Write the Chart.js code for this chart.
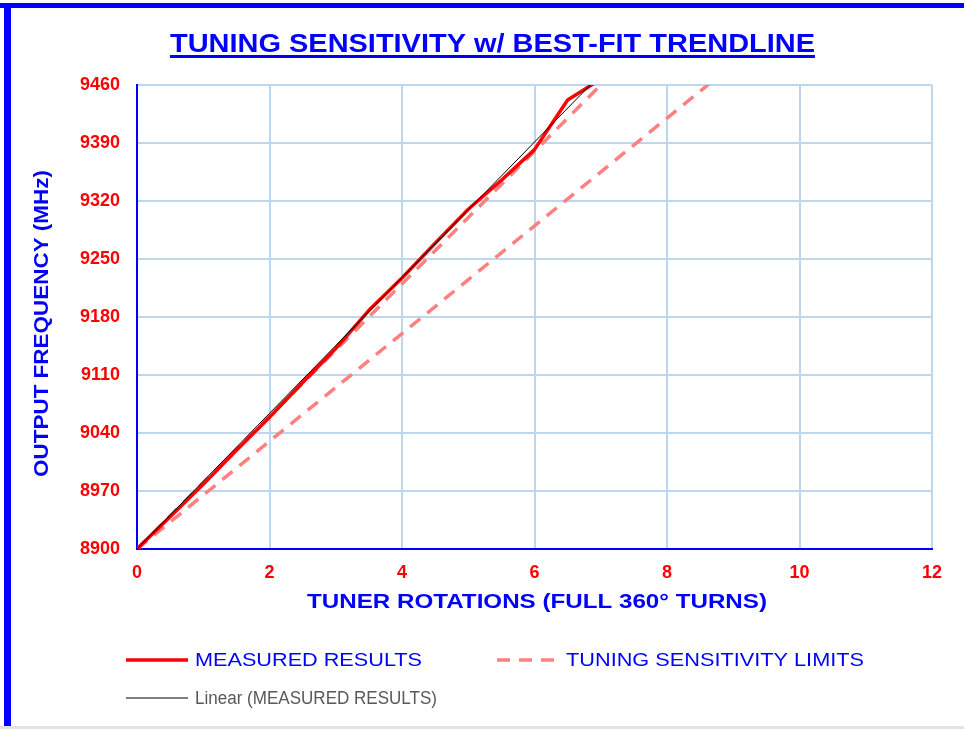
<!DOCTYPE html>
<html>
<head>
<meta charset="utf-8">
<title>Tuning Sensitivity</title>
<script src="https://cdn.jsdelivr.net/npm/chart.js@4.4.1/dist/chart.umd.min.js"></script>
<style>
html, body { margin: 0; padding: 0; background: #fff; }
#wrap { position: relative; width: 964px; height: 729px; overflow: hidden; background: #fff; }
#wrap canvas { position: absolute; left: 0; top: 0; }
.frame { position: absolute; background: #0000ff; }
#frameTop { left: 0; top: 3px; width: 964px; height: 5px; }
#frameLeft { left: 4px; top: 3px; width: 7px; height: 726px; }
#frameBottom { position: absolute; left: 0; top: 726px; width: 964px; height: 3px; background: #e2e2e2; }
</style>
</head>
<body>
<div id="wrap">
    <canvas id="tuningChart" width="964" height="729"></canvas>
    <div class="frame" id="frameTop"></div>
    <div class="frame" id="frameLeft"></div>
    <div id="frameBottom"></div>
</div>
<script>
// measured points (turns, MHz)
const rotations   = [0, 0.5, 1, 1.5, 2, 2.5, 3, 3.5, 4, 4.5, 5, 5.5, 6, 6.5, 7];
const measuredMHz = [8900, 8939, 8978, 9019, 9059, 9101, 9142, 9188, 9227, 9269, 9310, 9345, 9382, 9442, 9467];

// linear trendline end points
const trendRotations = [0, 7];
const trendMHz       = [8900, 9473];

// tuning sensitivity limits (80 and 65 MHz per turn)
const upperLimitRotations = [0, 7];
const upperLimitMHz       = [8900, 9460];
const lowerLimitRotations = [0, 9];
const lowerLimitMHz       = [8900, 9485];

// axis ticks
const xTickValues = [0, 2, 4, 6, 8, 10, 12];
const yTickValues = [8900, 8970, 9040, 9110, 9180, 9250, 9320, 9390, 9460];

const BLUE = '#0000ff';
const RED = '#ff0000';
const PINK = '#ff8080';
const GRID = '#bdd7ee';
const FONT = "'Liberation Sans', Arial, sans-serif";

function toPoints(xs, ys) {
    return xs.map((x, i) => ({ x: x, y: ys[i] }));
}

// draw text squeezed/stretched to a given width
function fitText(ctx, text, x, y, width) {
    const w = ctx.measureText(text).width;
    ctx.save();
    ctx.translate(x, y);
    ctx.scale(width / w, 1);
    ctx.fillText(text, 0, 0);
    ctx.restore();
}

const titlePlugin = {
    id: 'titles',
    afterDraw(chart) {
        const ctx = chart.ctx;
        ctx.save();
        ctx.fillStyle = BLUE;
        ctx.textAlign = 'left';
        ctx.font = "bold 25px " + FONT;
        ctx.textBaseline = 'alphabetic';
        fitText(ctx, 'TUNING SENSITIVITY w/ BEST-FIT TRENDLINE', 170, 52, 645);
        ctx.fillRect(170, 55, 645, 3);

        // axis titles
        ctx.font = "bold 20px " + FONT;
        ctx.textBaseline = 'middle';
        fitText(ctx, 'TUNER ROTATIONS (FULL 360° TURNS)', 307, 602, 460);
        ctx.save();
        ctx.translate(42, 477);
        ctx.rotate(-Math.PI / 2);
        fitText(ctx, 'OUTPUT FREQUENCY (MHz)', 0, 0, 307);
        ctx.restore();
        ctx.restore();
    }
};

const legendPlugin = {
    id: 'bottomLegend',
    afterDraw(chart) {
        const ctx = chart.ctx;
        const items = [
            { ds: 0, x: 126, y: 660, textWidth: 227, color: BLUE, font: "19px " + FONT },
            { ds: 2, x: 497, y: 660, textWidth: 298, color: BLUE, font: "19px " + FONT },
            { ds: 1, x: 126, y: 698, textWidth: 242, color: '#595959', font: "18px 'Liberation Sans Narrow', " + FONT }
        ];
        ctx.save();
        items.forEach(it => {
            const ds = chart.data.datasets[it.ds];
            ctx.beginPath();
            ctx.strokeStyle = ds.borderColor;
            ctx.lineWidth = ds.borderWidth;
            ctx.setLineDash(ds.borderDash || []);
            ctx.lineCap = 'butt';
            ctx.moveTo(it.x, it.y);
            ctx.lineTo(it.x + 62, it.y);
            ctx.stroke();
            ctx.setLineDash([]);
            ctx.fillStyle = it.color;
            ctx.font = it.font;
            ctx.textBaseline = 'middle';
            fitText(ctx, ds.label, it.x + 69, it.y + 1, it.textWidth);
        });
        ctx.restore();
    }
};

const ctx = document.getElementById('tuningChart').getContext('2d');
new Chart(ctx, {
    type: 'scatter',
    data: {
        datasets: [{
            label: 'MEASURED RESULTS',
            data: toPoints(rotations, measuredMHz),
            showLine: true,
            borderColor: RED,
            borderWidth: 3.5,
            borderJoinStyle: 'round',
            pointRadius: 0,
            order: 1
        }, {
            label: 'Linear (MEASURED RESULTS)',
            data: toPoints(trendRotations, trendMHz),
            showLine: true,
            borderColor: '#000000',
            borderWidth: 1,
            pointRadius: 0,
            order: 0
        }, {
            label: 'TUNING SENSITIVITY LIMITS',
            data: toPoints(upperLimitRotations, upperLimitMHz),
            showLine: true,
            borderColor: PINK,
            borderWidth: 3.5,
            borderDash: [13, 9],
            pointRadius: 0,
            order: 2
        }, {
            label: 'TUNING SENSITIVITY LIMITS (LOW)',
            data: toPoints(lowerLimitRotations, lowerLimitMHz),
            showLine: true,
            borderColor: PINK,
            borderWidth: 3.5,
            borderDash: [13, 9],
            pointRadius: 0,
            order: 3
        }]
    },
    options: {
        responsive: false,
        animation: false,
        layout: { padding: { left: 0, right: 32, top: 85, bottom: 0 } },
        plugins: {
            legend: { display: false },
            title: { display: false },
            tooltip: { enabled: false }
        },
        scales: {
            x: {
                type: 'linear',
                min: 0,
                max: 12,
                afterBuildTicks: s => { s.ticks = xTickValues.map(v => ({ value: v })); },
                afterFit: s => { s.height = 180; },
                grid: { color: GRID, lineWidth: 2, drawTicks: false },
                border: { color: BLUE, width: 2 },
                ticks: {
                    color: RED,
                    padding: 13,
                    maxRotation: 0,
                    callback: v => String(v),
                    font: { family: FONT, weight: 'bold', size: 18 }
                }
            },
            y: {
                type: 'linear',
                min: 8900,
                max: 9460,
                afterBuildTicks: s => { s.ticks = yTickValues.map(v => ({ value: v })); },
                afterFit: s => { s.width = 137; },
                grid: { color: GRID, lineWidth: 2, drawTicks: false },
                border: { color: BLUE, width: 2 },
                ticks: {
                    color: RED,
                    padding: 17,
                    callback: v => String(v),
                    font: { family: FONT, weight: 'bold', size: 18 }
                }
            }
        }
    },
    plugins: [titlePlugin, legendPlugin]
});
</script>
</body>
</html>
